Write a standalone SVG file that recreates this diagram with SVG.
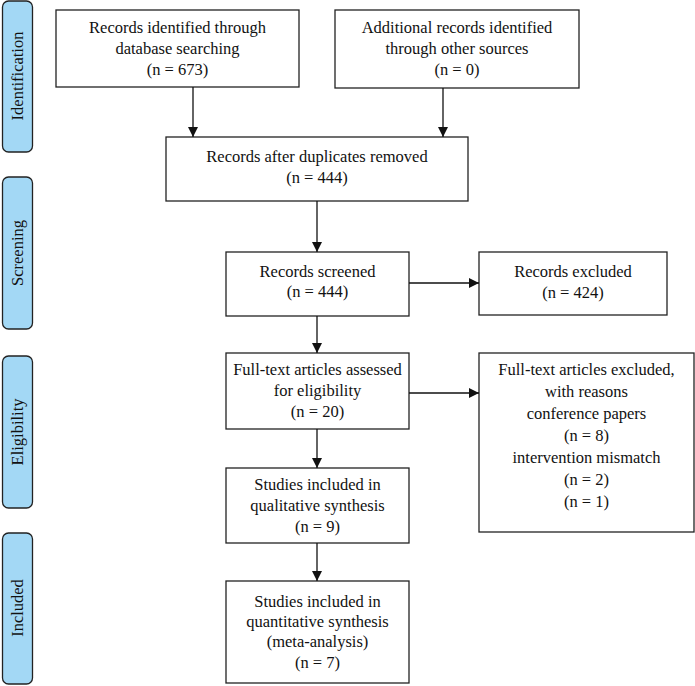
<svg xmlns="http://www.w3.org/2000/svg" width="695" height="686" viewBox="0 0 695 686">
<defs>
<marker id="ah" viewBox="0 0 10 10" refX="10" refY="5" markerWidth="10" markerHeight="10" markerUnits="userSpaceOnUse" orient="auto">
<path d="M0,0 L10,5 L0,10 Z" fill="#111"/>
</marker>
</defs>
<style>
.box{fill:#fff;stroke:#222;stroke-width:1.3}
.tab{fill:#a3d8f5;stroke:#222;stroke-width:1.3}
.conn line{stroke:#111;stroke-width:1.3;marker-end:url(#ah)}
</style>
<rect width="695" height="686" fill="#fff"/>
<g font-family="Liberation Serif, DejaVu Serif, serif" font-size="16.5" fill="#111" text-anchor="middle">
<g id="tab-identification"><rect class="tab" x="2.5" y="1" width="30" height="151" rx="6"/><text transform="translate(23,76) rotate(-90)">Identification</text></g>
<g id="tab-screening"><rect class="tab" x="2.5" y="177" width="30" height="152" rx="6"/><text transform="translate(23,253) rotate(-90)">Screening</text></g>
<g id="tab-eligibility"><rect class="tab" x="2.5" y="356" width="30" height="152" rx="6"/><text transform="translate(23,432) rotate(-90)">Eligibility</text></g>
<g id="tab-included"><rect class="tab" x="2.5" y="533" width="30" height="151" rx="6"/><text transform="translate(23,608) rotate(-90)">Included</text></g>

<g id="db-search"><rect class="box" x="56" y="10" width="243" height="77"/>
<text x="177.5" y="33">Records identified through</text><text x="177.5" y="54">database searching</text><text x="177.5" y="75">(n = 673)</text></g>
<g id="other-sources"><rect class="box" x="335" y="10" width="244" height="78"/>
<text x="457" y="33">Additional records identified</text><text x="457" y="54">through other sources</text><text x="457" y="75">(n = 0)</text></g>
<g id="dedup"><rect class="box" x="166" y="137" width="302" height="64"/>
<text x="317" y="162">Records after duplicates removed</text><text x="317" y="183">(n = 444)</text></g>
<g id="screened"><rect class="box" x="226" y="252" width="183" height="64"/>
<text x="317.5" y="277">Records screened</text><text x="317.5" y="297">(n = 444)</text></g>
<g id="excluded"><rect class="box" x="479" y="252" width="188" height="63"/>
<text x="573" y="277">Records excluded</text><text x="573" y="298">(n = 424)</text></g>
<g id="fulltext"><rect class="box" x="226" y="353" width="183" height="76"/>
<text x="317.5" y="375">Full-text articles assessed</text><text x="317.5" y="396">for eligibility</text><text x="317.5" y="417">(n = 20)</text></g>
<g id="fulltext-excluded"><rect class="box" x="479" y="353" width="215" height="179"/>
<text x="586.5" y="375">Full-text articles excluded,</text><text x="586.5" y="397">with reasons</text><text x="586.5" y="419">conference papers</text><text x="586.5" y="441">(n = 8)</text><text x="586.5" y="463">intervention mismatch</text><text x="586.5" y="485">(n = 2)</text><text x="586.5" y="507">(n = 1)</text></g>
<g id="qualitative"><rect class="box" x="226" y="468" width="183" height="75"/>
<text x="317.5" y="490">Studies included in</text><text x="317.5" y="511">qualitative synthesis</text><text x="317.5" y="532">(n = 9)</text></g>
<g id="quantitative"><rect class="box" x="226" y="581" width="183" height="102"/>
<text x="317.5" y="607">Studies included in</text><text x="317.5" y="627">quantitative synthesis</text><text x="317.5" y="647">(meta-analysis)</text><text x="317.5" y="668">(n = 7)</text></g>
</g>
<g id="connectors" class="conn">
<line x1="193" y1="87" x2="193" y2="137"/>
<line x1="443" y1="88" x2="443" y2="137"/>
<line x1="317" y1="201" x2="317" y2="252"/>
<line x1="409" y1="283" x2="479" y2="283"/>
<line x1="317" y1="316" x2="317" y2="353"/>
<line x1="409" y1="393" x2="479" y2="393"/>
<line x1="317" y1="429" x2="317" y2="468"/>
<line x1="317" y1="543" x2="317" y2="581"/>
</g>
</svg>
